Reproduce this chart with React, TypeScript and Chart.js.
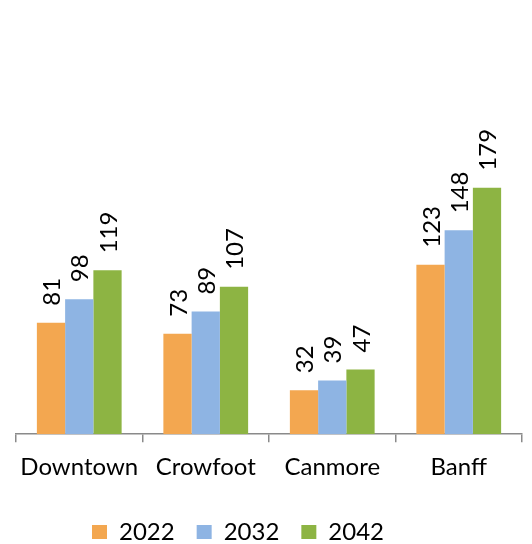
import React, { useEffect, useRef } from "react";
import { Chart, registerables } from "chart.js";

Chart.register(...registerables);

const categories = ["Downtown", "Crowfoot", "Canmore", "Banff"];
const seriesNames = ["2022", "2032", "2042"];
const values2022 = [81, 73, 32, 123];
const values2032 = [98, 89, 39, 148];
const values2042 = [119, 107, 47, 179];
const colors = ["#F3A750", "#8EB4E3", "#8DB443"];

const FONT = "Lato, 'Open Sans', sans-serif";

const labelPlugin = {
  id: "barValueLabels",
  afterLayout(chart: any) {
    const lg = chart.legend;
    if (lg) {
      lg.left -= 31;
      lg.right -= 31;
    }
  },
  afterDatasetsDraw(chart: any) {
    const ctx = chart.ctx;
    ctx.save();
    ctx.font = `24px ${FONT}`;
    ctx.fillStyle = "#000000";
    ctx.textAlign = "left";
    ctx.textBaseline = "middle";
    chart.data.datasets.forEach((ds: any, di: number) => {
      const meta = chart.getDatasetMeta(di);
      meta.data.forEach((bar: any, i: number) => {
        ctx.save();
        ctx.translate(bar.x + 1.5, bar.y - 17);
        ctx.rotate(-Math.PI / 2);
        ctx.fillText(String(ds.data[i]), 0, 0);
        ctx.restore();
      });
    });
    ctx.restore();
  },
};

export default function App() {
  const ref = useRef<HTMLCanvasElement | null>(null);
  useEffect(() => {
    if (!ref.current) return;
    const data = [values2022, values2032, values2042];
    const chart = new Chart(ref.current, {
      type: "bar",
      data: {
        labels: categories,
        datasets: seriesNames.map((name, k) => ({
          label: name,
          data: data[k],
          backgroundColor: colors[k],
          borderWidth: 0,
          barPercentage: 1,
          categoryPercentage: 0.67,
        })),
      },
      options: {
        animation: false,
        responsive: false,
        maintainAspectRatio: false,
        layout: { padding: { left: 16, right: 10, top: 21, bottom: -10 } },
        plugins: {
          legend: {
            position: "bottom",
            labels: {
              font: { family: FONT, size: 24 },
              color: "#000000",
              boxWidth: 15,
              boxHeight: 14,
              padding: 22,
            },
          },
          tooltip: { enabled: false },
        },
        scales: {
          x: {
            afterFit: (scale: any) => {
              scale.height += 5;
            },
            grid: {
              display: true,
              offset: true,
              drawOnChartArea: false,
              drawTicks: true,
              tickLength: 8,
              color: "#8A8A8A",
              lineWidth: 1.5,
            },
            border: { display: true, color: "#8A8A8A", width: 1.5 },
            ticks: {
              font: { family: FONT, size: 24 },
              color: "#000000",
              padding: 11,
              maxRotation: 0,
            },
          },
          y: {
            display: false,
            min: 0,
            max: 300,
          },
        },
      },
      plugins: [labelPlugin],
    });
    return () => chart.destroy();
  }, []);
  return (
    <div style={{ position: "absolute", left: 0, top: 0, width: 532, height: 544 }}>
      <canvas ref={ref} width={532} height={544} style={{ display: "block" }} />
    </div>
  );
}
